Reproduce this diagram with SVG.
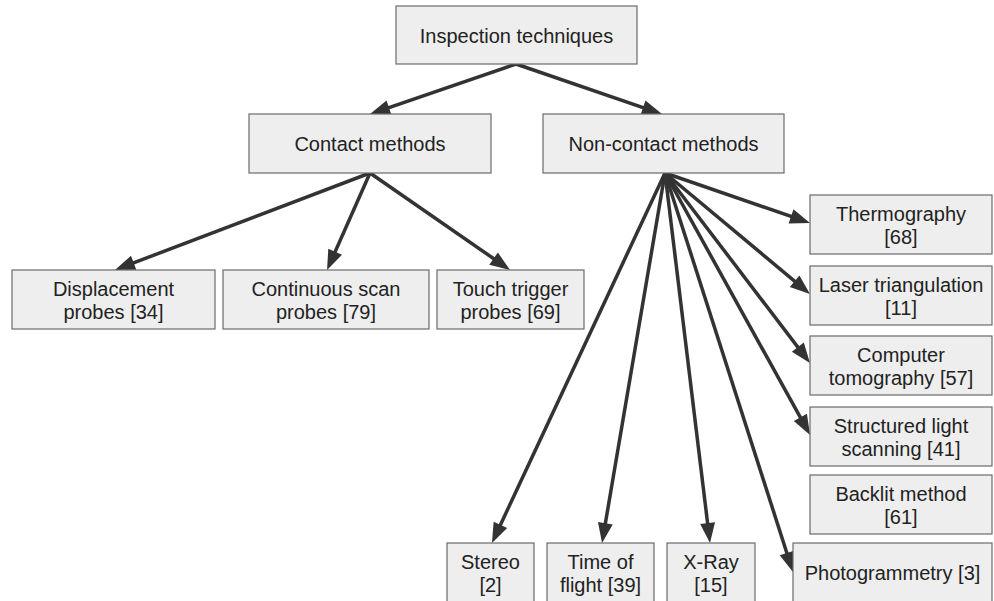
<svg xmlns="http://www.w3.org/2000/svg" width="994" height="601" viewBox="0 0 994 601">
<style>
.box{fill:#eeeeee;stroke:#6b6b6b;stroke-width:1.2}
text{font-family:"Liberation Sans",Arial,Helvetica,sans-serif;font-size:20px;fill:#222;text-anchor:middle}
.edge{stroke:#333;stroke-width:3.5;fill:none;marker-end:url(#arr)}
</style>
<defs>
<marker id="arr" markerUnits="userSpaceOnUse" markerWidth="20" markerHeight="15" refX="10" refY="7.5" orient="auto" overflow="visible">
<path d="M0,0 L20,7.5 L0,15 z" fill="#333"/>
</marker>
</defs>
<rect width="994" height="601" fill="#ffffff"/>
<g id="connectors">
<line class="edge" x1="516" y1="64" x2="379.5" y2="110.8"/>
<line class="edge" x1="516" y1="64" x2="652.5" y2="110.8"/>
<line class="edge" x1="370" y1="173" x2="124.3" y2="266.4"/>
<line class="edge" x1="370" y1="173" x2="331.1" y2="260.9"/>
<line class="edge" x1="370" y1="173" x2="501.8" y2="264.3"/>
<line class="edge" x1="665" y1="173" x2="800.5" y2="219.7"/>
<line class="edge" x1="665" y1="173" x2="802.3" y2="287.6"/>
<line class="edge" x1="665" y1="173" x2="803.9" y2="355.1"/>
<line class="edge" x1="665" y1="173" x2="805.2" y2="426.2"/>
<line class="edge" x1="665" y1="173" x2="789.9" y2="562.5"/>
<line class="edge" x1="665" y1="173" x2="496.2" y2="533.9"/>
<line class="edge" x1="665" y1="173" x2="603.7" y2="533.1"/>
<line class="edge" x1="665" y1="173" x2="708.8" y2="533.1"/>
</g>
<g id="inspection"><rect class="box" x="396" y="6" width="241" height="58"/><text x="516.5" y="43">Inspection techniques</text></g>
<g id="contact"><rect class="box" x="249" y="114" width="242" height="59"/><text x="370" y="151">Contact methods</text></g>
<g id="noncontact"><rect class="box" x="543" y="114" width="241" height="59"/><text x="663.5" y="151">Non-contact methods</text></g>
<g id="displacement"><rect class="box" x="12" y="270" width="203" height="59"/><text x="113.5" y="295.5">Displacement</text><text x="113.5" y="319">probes [34]</text></g>
<g id="continuous"><rect class="box" x="223" y="270" width="206" height="59"/><text x="326" y="295.5">Continuous scan</text><text x="326" y="319">probes [79]</text></g>
<g id="touch"><rect class="box" x="437" y="270" width="147" height="59"/><text x="510.5" y="295.5">Touch trigger</text><text x="510.5" y="319">probes [69]</text></g>
<g id="thermography"><rect class="box" x="810" y="195" width="182" height="59"/><text x="901" y="220.5">Thermography</text><text x="901" y="244">[68]</text></g>
<g id="laser"><rect class="box" x="810" y="266" width="182" height="59"/><text x="901" y="291.5">Laser triangulation</text><text x="901" y="315">[11]</text></g>
<g id="computer"><rect class="box" x="810" y="336" width="182" height="59"/><text x="901" y="361.5">Computer</text><text x="901" y="385">tomography [57]</text></g>
<g id="structured"><rect class="box" x="810" y="407" width="182" height="59"/><text x="901" y="432.5">Structured light</text><text x="901" y="456">scanning [41]</text></g>
<g id="backlit"><rect class="box" x="810" y="475" width="182" height="59"/><text x="901" y="500.5">Backlit method</text><text x="901" y="524">[61]</text></g>
<g id="photogrammetry"><rect class="box" x="793" y="543" width="199" height="59"/><text x="892.5" y="580">Photogrammetry [3]</text></g>
<g id="stereo"><rect class="box" x="447" y="543" width="87" height="59"/><text x="490.5" y="568.5">Stereo</text><text x="490.5" y="592">[2]</text></g>
<g id="timeofflight"><rect class="box" x="547" y="543" width="107" height="59"/><text x="600.5" y="568.5">Time of</text><text x="600.5" y="592">flight [39]</text></g>
<g id="xray"><rect class="box" x="667" y="543" width="88" height="59"/><text x="711" y="568.5">X-Ray</text><text x="711" y="592">[15]</text></g>
</svg>
